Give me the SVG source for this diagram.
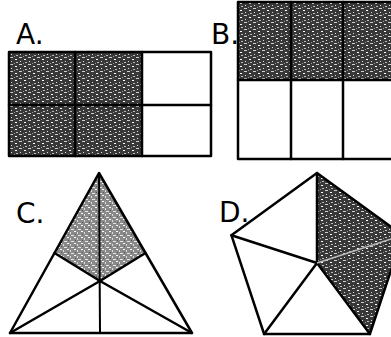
<svg xmlns="http://www.w3.org/2000/svg" width="391" height="337" viewBox="0 0 391 337">
<style>
.ln{fill:none;stroke:#000;stroke-width:2.5;stroke-linejoin:round;stroke-linecap:round}
.thin{fill:none;stroke:#000;stroke-width:2}
.lbl{font-family:"DejaVu Sans","Liberation Sans",sans-serif;font-size:28px;fill:#000}
.dk{fill:url(#noiseDark)}
.lt{fill:url(#noiseLight)}
</style>
<defs>
<pattern id="noiseDark" width="9" height="7" patternUnits="userSpaceOnUse">
<rect width="9" height="7" fill="#383838"/>
<rect x="1" y="1" width="3" height="1" fill="#cfcfcf"/>
<rect x="6" y="3" width="2" height="1" fill="#ffffff"/>
<rect x="2" y="5" width="1" height="1" fill="#e0e0e0"/>
<rect x="5" y="0" width="1" height="1" fill="#9a9a9a"/>
<rect x="7" y="6" width="2" height="1" fill="#bbbbbb"/>
</pattern>
<pattern id="noiseLight" width="7" height="6" patternUnits="userSpaceOnUse">
<rect width="7" height="6" fill="#8a8a8a"/>
<rect x="1" y="1" width="3" height="1" fill="#e6e6e6"/>
<rect x="4" y="3" width="2" height="1" fill="#ffffff"/>
<rect x="0" y="4" width="1" height="2" fill="#dddddd"/>
<rect x="5" y="0" width="1" height="1" fill="#555555"/>
</pattern>
</defs>

<g id="figA">
<text class="lbl" x="16" y="44">A.</text>
<rect x="9" y="52" width="133" height="104" fill="#fff"/>
<rect x="9" y="52" width="66" height="53" class="dk"/>
<rect x="75" y="52" width="67" height="53" class="dk"/>
<rect x="9" y="105" width="66" height="51" class="dk"/>
<rect x="75" y="105" width="67" height="51" class="dk"/>
<rect x="9" y="52" width="202" height="104" class="ln"/>
<line x1="9" y1="105" x2="211" y2="105" class="ln"/>
<line x1="75" y1="52" x2="75" y2="156" class="ln"/>
<line x1="142" y1="52" x2="142" y2="156" class="ln"/>
</g>

<g id="figB">
<text class="lbl" x="211" y="44">B.</text>
<rect x="238" y="2" width="160" height="78" class="dk"/>
<rect x="238" y="2" width="160" height="157" class="ln"/>
<line x1="238" y1="80" x2="398" y2="80" class="ln"/>
<line x1="291" y1="2" x2="291" y2="159" class="ln"/>
<line x1="343" y1="2" x2="343" y2="159" class="ln"/>
</g>

<g id="figC">
<text class="lbl" x="16" y="223">C.</text>
<polygon points="99,173 54.5,253 100,281 145.5,253" class="lt"/>
<polygon points="99,173 10,333 192,333" class="ln"/>
<line x1="99" y1="173" x2="100" y2="333" class="thin"/>
<line x1="10" y1="333" x2="100" y2="281" class="ln"/>
<line x1="192" y1="333" x2="100" y2="281" class="ln"/>
<line x1="54.5" y1="253" x2="100" y2="281" class="ln"/>
<line x1="145.5" y1="253" x2="100" y2="281" class="ln"/>
</g>

<g id="figD">
<text class="lbl" x="219" y="222">D.</text>
<polygon points="317,173 402.6,235.2 369.9,334 317,263" class="dk"/>
<polygon points="317,173 402.6,235.2 369.9,334 264.1,334 231.4,235.2" class="ln"/>
<line x1="317" y1="173" x2="317" y2="263" class="ln"/>
<line x1="231.4" y1="235.2" x2="317" y2="263" class="ln"/>
<line x1="264.1" y1="334" x2="317" y2="263" class="ln"/>
<line x1="369.9" y1="334" x2="317" y2="263" class="ln"/>
<line x1="402.6" y1="235.2" x2="317" y2="263" stroke="#bbb" stroke-width="1.5"/>
</g>
</svg>
